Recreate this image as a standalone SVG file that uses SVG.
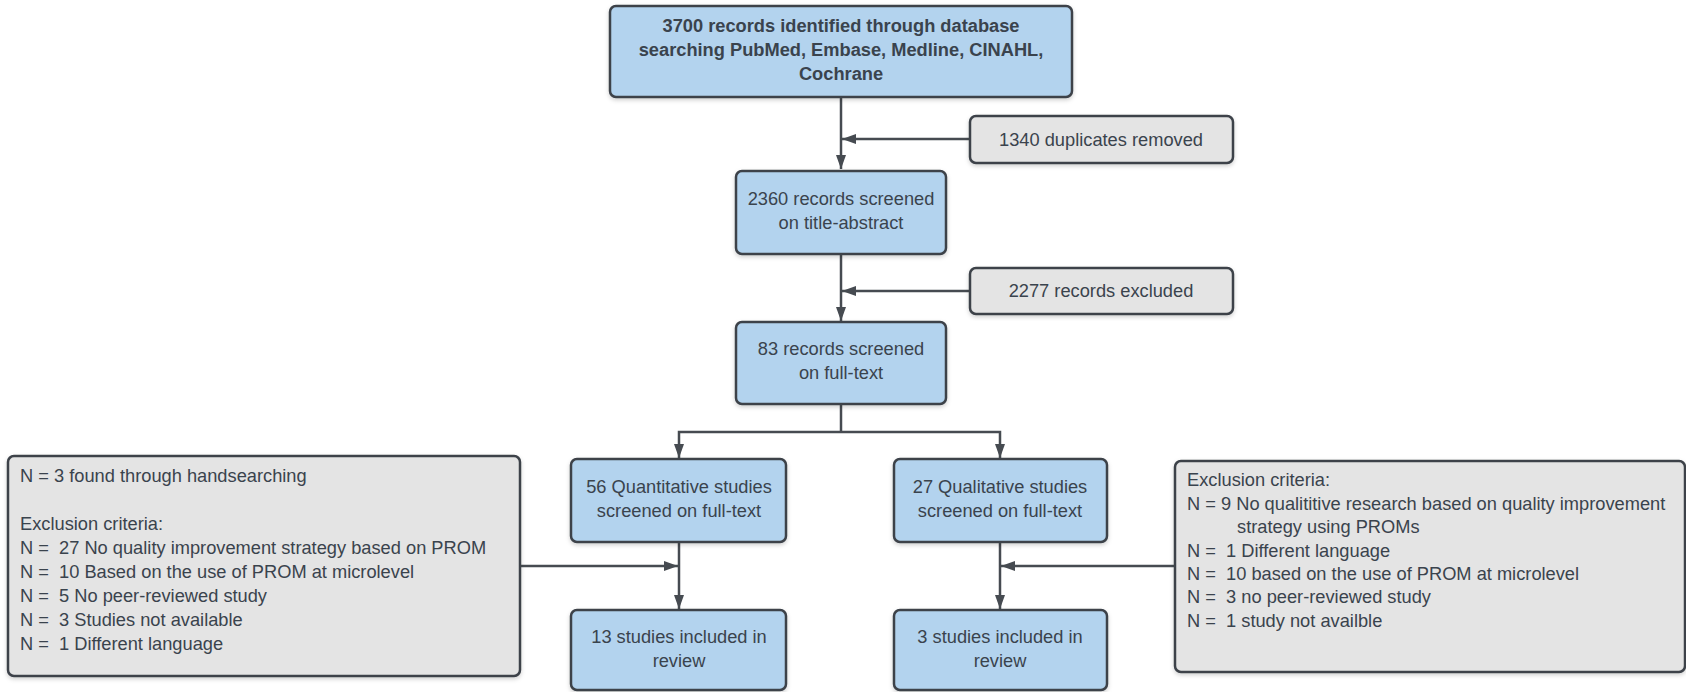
<svg xmlns="http://www.w3.org/2000/svg" width="1686" height="692" viewBox="0 0 1686 692">
<defs>
<style>
.box{stroke:#3d434a;stroke-width:2.5;filter:url(#sh)}
.blue{fill:#b3d3ee}
.gray{fill:#e4e4e4}
text{font-family:"Liberation Sans",Arial,sans-serif;font-size:18.25px;fill:#3a434d}
.c{text-anchor:middle}
.b{font-weight:bold}
.ln{fill:none;stroke:#464b51;stroke-width:2.5}
</style>
<filter id="sh" x="-5%" y="-5%" width="110%" height="120%">
<feDropShadow dx="0" dy="2" stdDeviation="2" flood-color="#000" flood-opacity="0.18"/>
</filter>
<marker id="ar" viewBox="0 0 14 10" refX="14" refY="5" markerWidth="14" markerHeight="10" markerUnits="userSpaceOnUse" orient="auto">
<path d="M0,0 L14,5 L0,10 Z" fill="#464b51"/>
</marker>
</defs>
<g id="connectors">
<line class="ln" x1="841" y1="97" x2="841" y2="169" marker-end="url(#ar)"/>
<line class="ln" x1="970" y1="139" x2="842" y2="139" marker-end="url(#ar)"/>
<line class="ln" x1="841" y1="254" x2="841" y2="321" marker-end="url(#ar)"/>
<line class="ln" x1="970" y1="291" x2="842" y2="291" marker-end="url(#ar)"/>
<polyline class="ln" points="841,404 841,432"/>
<polyline class="ln" points="841,432 679,432 679,458" marker-end="url(#ar)"/>
<polyline class="ln" points="841,432 1000,432 1000,458" marker-end="url(#ar)"/>
<line class="ln" x1="679" y1="542" x2="679" y2="609" marker-end="url(#ar)"/>
<line class="ln" x1="1000" y1="542" x2="1000" y2="609" marker-end="url(#ar)"/>
<line class="ln" x1="520" y1="566" x2="678" y2="566" marker-end="url(#ar)"/>
<line class="ln" x1="1175" y1="566" x2="1001" y2="566" marker-end="url(#ar)"/>
</g>
<g id="n-identified">
<rect class="box blue" x="610" y="6" width="462" height="91" rx="6"/>
<text class="c b" x="841" y="32">3700 records identified through database</text>
<text class="c b" x="841" y="56">searching PubMed, Embase, Medline, CINAHL,</text>
<text class="c b" x="841" y="80">Cochrane</text>
</g>
<g id="n-duplicates">
<rect class="box gray" x="970" y="116" width="263" height="47" rx="6"/>
<text class="c" x="1101" y="146">1340 duplicates removed</text>
</g>
<g id="n-screened">
<rect class="box blue" x="736" y="171" width="210" height="83" rx="6"/>
<text class="c" x="841" y="205">2360 records screened</text>
<text class="c" x="841" y="229">on title-abstract</text>
</g>
<g id="n-excluded">
<rect class="box gray" x="970" y="268" width="263" height="46" rx="6"/>
<text class="c" x="1101" y="297">2277 records excluded</text>
</g>
<g id="n-fulltext">
<rect class="box blue" x="736" y="322" width="210" height="82" rx="6"/>
<text class="c" x="841" y="355">83 records screened</text>
<text class="c" x="841" y="379">on full-text</text>
</g>
<g id="n-quant">
<rect class="box blue" x="571" y="459" width="215" height="83" rx="6"/>
<text class="c" x="679" y="493">56 Quantitative studies</text>
<text class="c" x="679" y="517">screened on full-text</text>
</g>
<g id="n-qual">
<rect class="box blue" x="894" y="459" width="213" height="83" rx="6"/>
<text class="c" x="1000" y="493">27 Qualitative studies</text>
<text class="c" x="1000" y="517">screened on full-text</text>
</g>
<g id="n-quant-incl">
<rect class="box blue" x="571" y="610" width="215" height="80" rx="6"/>
<text class="c" x="679" y="643">13 studies included in</text>
<text class="c" x="679" y="667">review</text>
</g>
<g id="n-qual-incl">
<rect class="box blue" x="894" y="610" width="213" height="80" rx="6"/>
<text class="c" x="1000" y="643">3 studies included in</text>
<text class="c" x="1000" y="667">review</text>
</g>
<g id="n-left-excl">
<rect class="box gray" x="8" y="456" width="512" height="220" rx="6"/>
<text x="20" y="482">N = 3 found through handsearching</text>
<text x="20" y="530">Exclusion criteria:</text>
<text x="20" y="554" xml:space="preserve">N =  27 No quality improvement strategy based on PROM</text>
<text x="20" y="578" xml:space="preserve">N =  10 Based on the use of PROM at microlevel</text>
<text x="20" y="602" xml:space="preserve">N =  5 No peer-reviewed study</text>
<text x="20" y="626" xml:space="preserve">N =  3 Studies not available</text>
<text x="20" y="650" xml:space="preserve">N =  1 Different language</text>
</g>
<g id="n-right-excl">
<rect class="box gray" x="1175" y="461" width="510" height="211" rx="6"/>
<text x="1187" y="486">Exclusion criteria:</text>
<text x="1187" y="510">N = 9 No qualititive research based on quality improvement</text>
<text x="1237" y="533">strategy using PROMs</text>
<text x="1187" y="557" xml:space="preserve">N =  1 Different language</text>
<text x="1187" y="580" xml:space="preserve">N =  10 based on the use of PROM at microlevel</text>
<text x="1187" y="603" xml:space="preserve">N =  3 no peer-reviewed study</text>
<text x="1187" y="627" xml:space="preserve">N =  1 study not availble</text>
</g>
</svg>
